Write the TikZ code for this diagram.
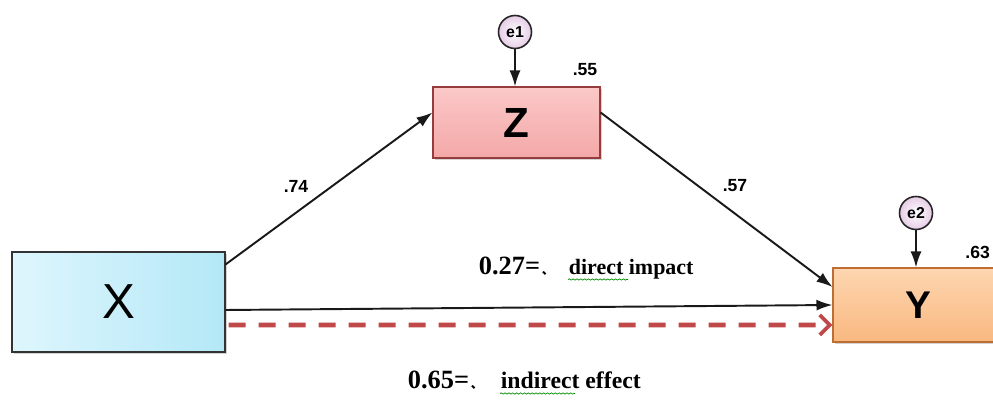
\documentclass[tikz,border=0pt]{standalone}
\usepackage{fontspec}
\setmainfont{Liberation Sans}
\newfontfamily\timesfont{Liberation Serif}
\newfontfamily\cjk{Noto Sans CJK SC}
\usetikzlibrary{arrows.meta,shadows,decorations.pathmorphing}

\begin{document}
\begin{tikzpicture}[%
    line width=1pt,
    varbox/.style={
        draw=black!80,
        line width=0.6pt,
        rectangle,
        drop shadow={opacity=0.35, shadow xshift=1.2pt, shadow yshift=-1.2pt}
    },
    errcirc/.style={
        circle,
        draw=black!85,
        line width=0.9pt,
        inner color=white,
        outer color=violet!20,
        minimum size=0.66cm,
        inner sep=0pt,
        font=\fontsize{9}{9}\selectfont\bfseries
    },
    path/.style={
        draw=black!90,
        line width=1.1pt,
        -{Latex[length=0.32cm,width=0.22cm]}
    },
    coef/.style={font=\fontsize{10}{10}\selectfont\bfseries},
    effect/.style={anchor=base west, inner sep=0pt,
        font=\fontsize{12.5}{14}\selectfont\timesfont\bfseries},
    squiggle/.style={draw=green!55!black, line width=0.4pt,
        decorate, decoration={snake, amplitude=0.35pt, segment length=2.2pt}}
]
    % Page and clipping (the Y box runs off the right edge).
    \useasboundingbox (0,0) rectangle (19.86,8.06);
    \clip (0,0) rectangle (19.86,8.06);

    % The three observed variables.
    \node[varbox, minimum width=4.26cm, minimum height=2.0cm,
          left color={rgb,255:red,222;green,246;blue,253},
          right color={rgb,255:red,180;green,232;blue,247},
          font=\fontsize{28}{30}\selectfont]
        (x) at (2.37, 2.02) {X};

    \node[varbox, draw={rgb,255:red,150;green,60;blue,60},
          minimum width=3.34cm, minimum height=1.42cm,
          top color={rgb,255:red,251;green,200;blue,200},
          bottom color={rgb,255:red,244;green,168;blue,168},
          font=\fontsize{24}{26}\selectfont\bfseries]
        (z) at (10.33, 5.61) {Z};

    \node[varbox, draw={rgb,255:red,190;green,110;blue,50},
          minimum width=3.4cm, minimum height=1.48cm,
          top color={rgb,255:red,253;green,214;blue,176},
          bottom color={rgb,255:red,249;green,184;blue,128},
          font=\fontsize{22}{24}\selectfont\bfseries]
        (y) at (18.36, 1.96) {Y};

    % Error terms.
    \node[errcirc] (e1) at (10.30, 7.42) {e1};
    \node[errcirc] (e2) at (18.32, 3.80) {e2};

    \draw[path] (e1) -- (e1 |- z.north);
    \draw[path] (e2) -- (e2 |- y.north);

    % Squared multiple correlations.
    \node[coef] (r2z) at (11.70, 6.66) {.55};
    \node[coef, anchor=east, inner sep=1pt] (r2y) at (19.85, 3.02) {.63};

    % Regression paths.
    \draw[path] ([yshift=-0.26cm]x.north east) -- ([yshift=-0.52cm]z.north west);
    \draw[path] ([yshift=-0.52cm]z.north east) -- ([yshift=0.36cm]y.west);
    \draw[path] ([yshift=-0.16cm]x.east) -- (y.west);

    \node[coef] (bxz) at (5.92, 4.34) {.74};
    \node[coef] (bzy) at (14.70, 4.34) {.57};

    % Indirect route (dashed).
    \draw[draw={rgb,255:red,192;green,72;blue,72}, line width=2.6pt,
          dash pattern=on 0.34cm off 0.26cm, shorten <=0.06cm,
          -{Straight Barb[length=0.2cm,width=0.4cm,line width=2.2pt]}]
        ([yshift=-0.46cm]x.east) -- ([yshift=-0.40cm]y.west);

    % Effect sizes.
    \node[effect, font=\fontsize{15}{16}\selectfont\timesfont\bfseries] (dnum) at (9.56, 2.56)
        {0.27=\hspace{1pt}{\cjk\fontsize{7}{7}\selectfont 、}};
    \node[effect] (dtxt) at (11.36, 2.56) {direct impact};
    \node[effect, font=\fontsize{15}{16}\selectfont\timesfont\bfseries] (inum) at (8.14, 0.28)
        {0.65=\hspace{1pt}{\cjk\fontsize{7}{7}\selectfont 、}};
    \node[effect, font=\fontsize{13.5}{15}\selectfont\timesfont\bfseries] (itxt) at (10.0, 0.28) {indirect effect};

    % Spell-check marks.
    \draw[squiggle] ([yshift=-0.09cm]dtxt.base west) -- ++(1.2,0);
    \draw[squiggle] ([yshift=-0.09cm]itxt.base west) -- ++(1.5,0);
\end{tikzpicture}
\end{document}
